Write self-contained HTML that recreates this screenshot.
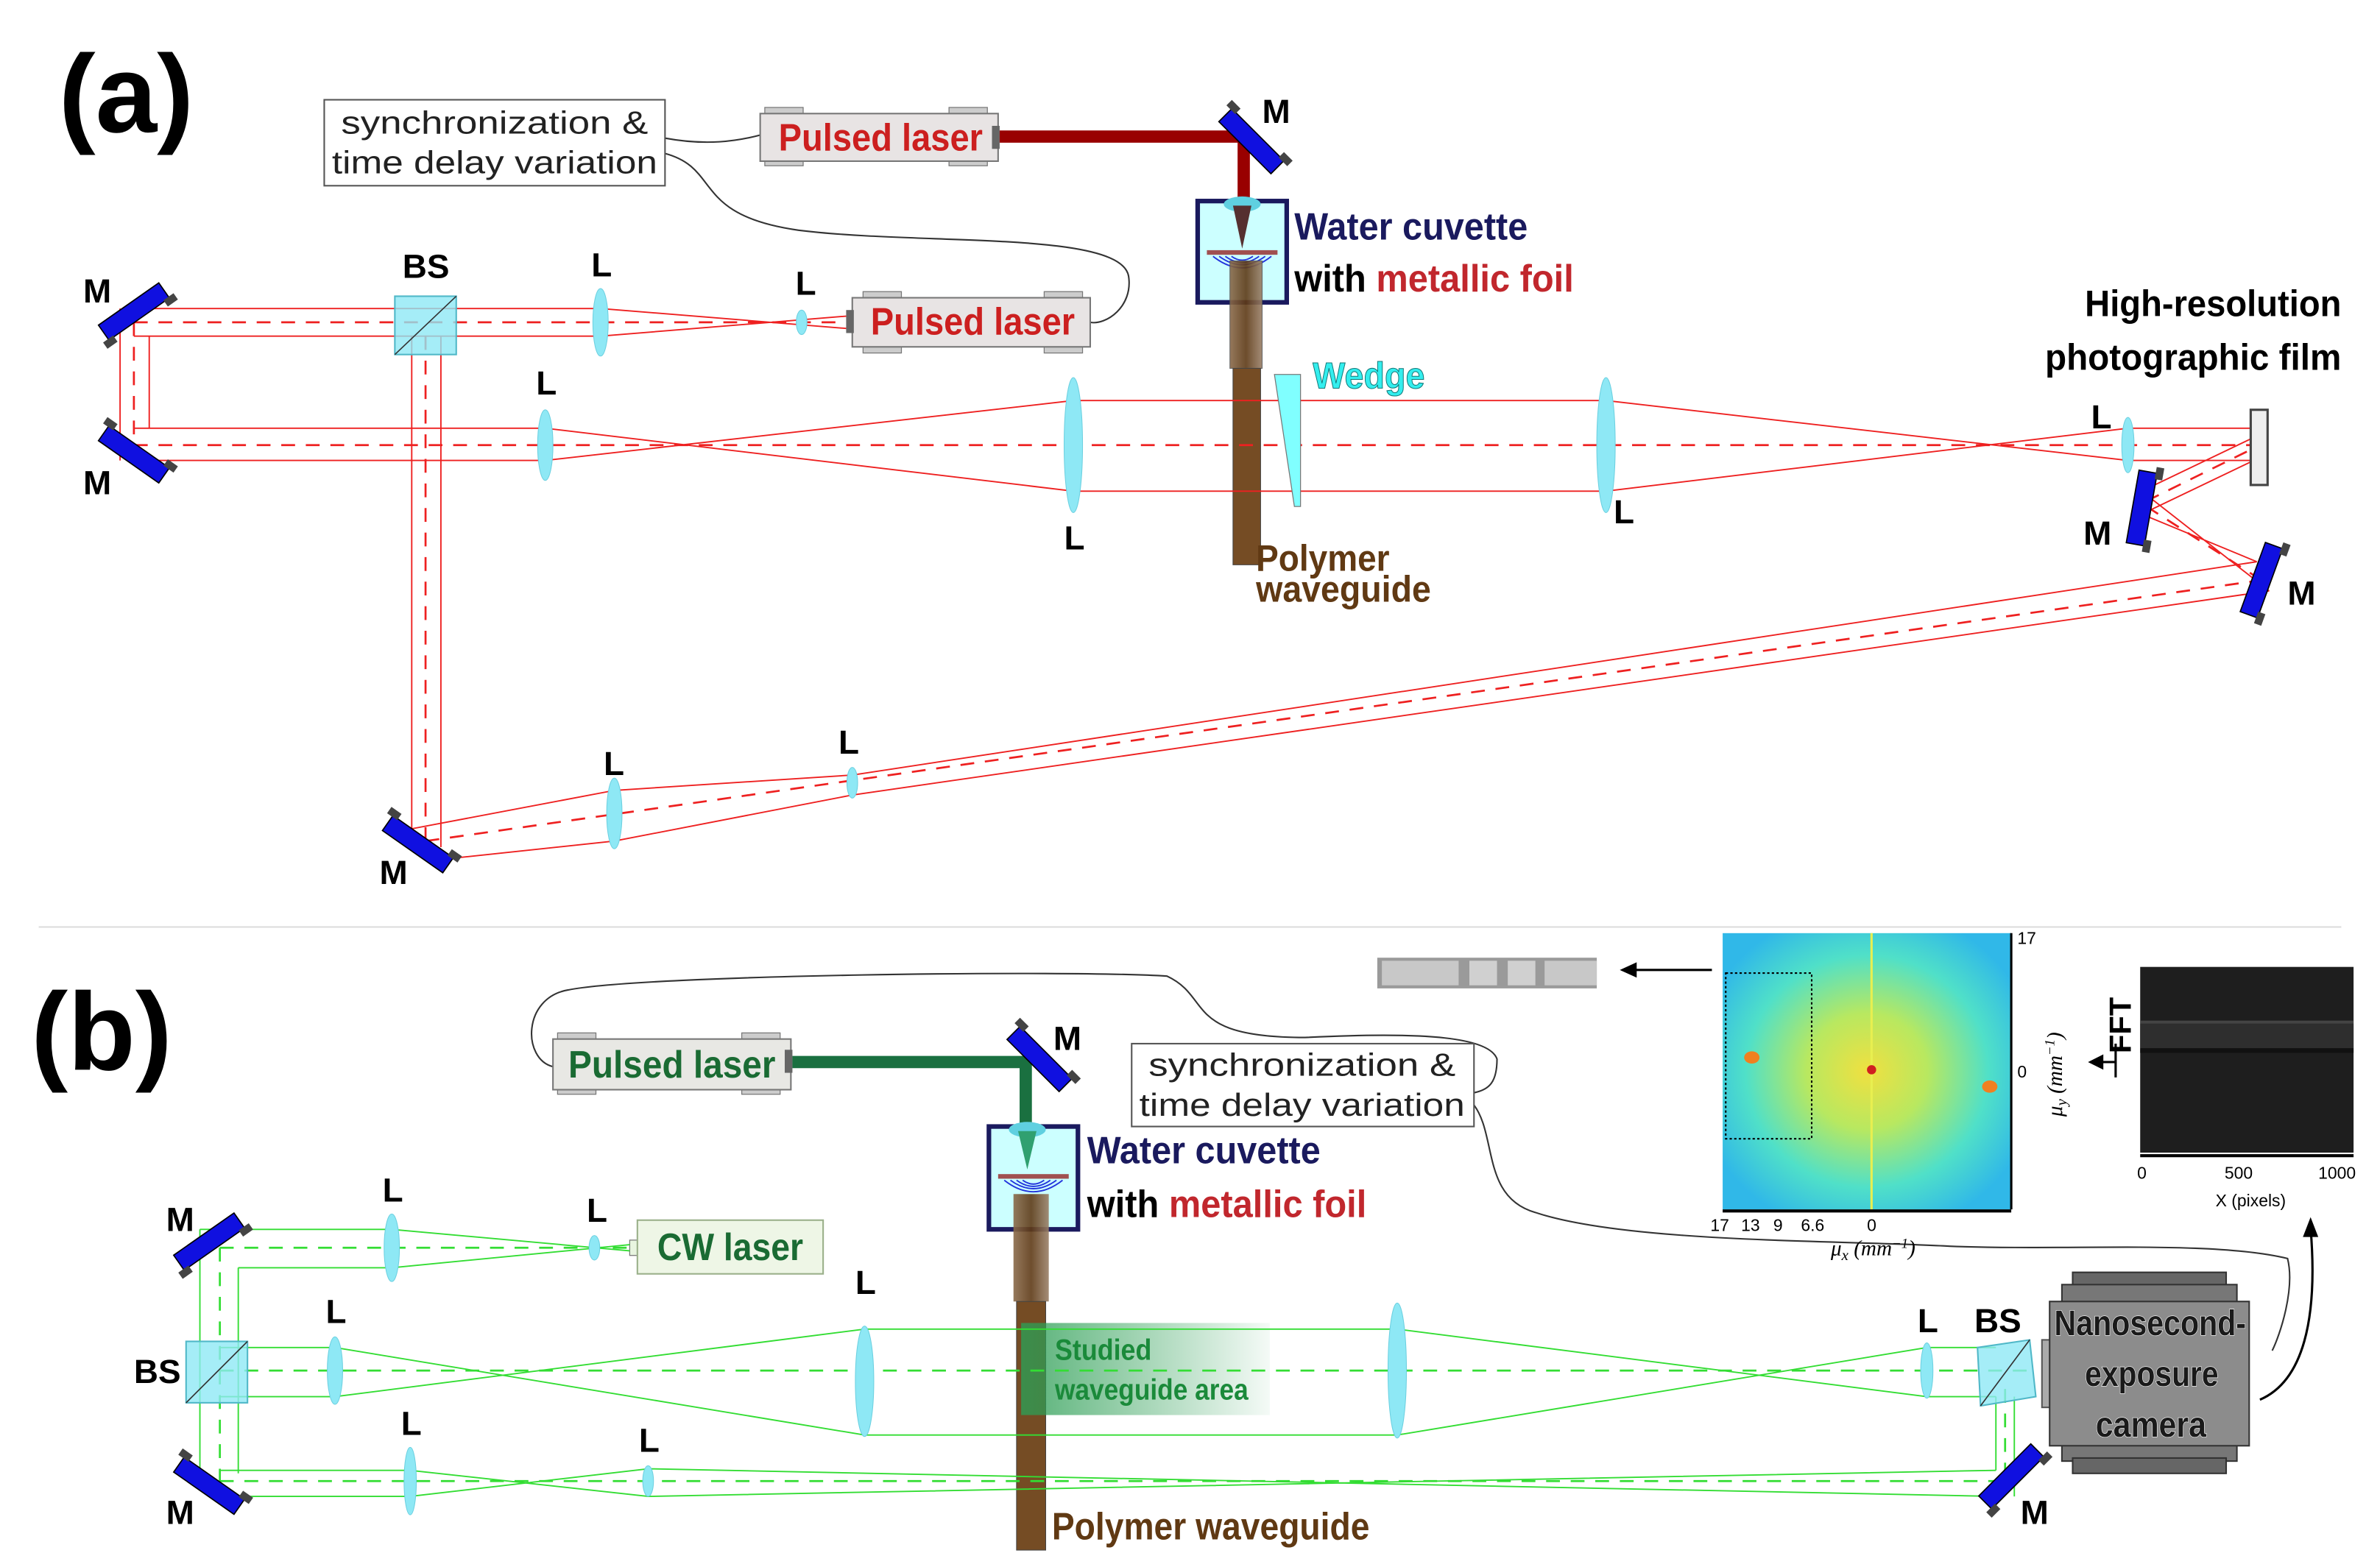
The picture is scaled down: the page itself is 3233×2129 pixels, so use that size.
<!DOCTYPE html>
<html><head><meta charset="utf-8"><style>
html,body{margin:0;padding:0;background:#fff}
svg{display:block}
.b{font-family:"Liberation Sans Narrow","Liberation Sans",sans-serif;font-weight:bold}
.n{font-family:"Liberation Sans",sans-serif}
</style></head><body>
<svg width="3233" height="2129" viewBox="0 0 1550 1021" xmlns="http://www.w3.org/2000/svg">
<defs>
<g id="mir"><rect x="-6" y="-24" width="12" height="48" fill="#1010e0" stroke="#000" stroke-width="0.8"/><rect x="5" y="-28" width="5" height="8" fill="#444"/><rect x="5" y="20" width="5" height="8" fill="#444"/></g>
<radialGradient id="fftg" cx="0.5" cy="0.5" r="0.6"><stop offset="0" stop-color="#f0e040"/><stop offset="0.35" stop-color="#b8e860"/><stop offset="0.7" stop-color="#50e0c8"/><stop offset="1" stop-color="#30b8e8"/></radialGradient>
<linearGradient id="stud" x1="0" x2="1"><stop offset="0" stop-color="#2d9e55" stop-opacity="0.8"/><stop offset="1" stop-color="#2d9e55" stop-opacity="0.05"/></linearGradient>
<linearGradient id="wg" x1="0" x2="1"><stop offset="0" stop-color="#8a6a4a"/><stop offset="0.5" stop-color="#5e3a16"/><stop offset="1" stop-color="#9a8068"/></linearGradient>
</defs>

<!-- ========== PANEL A ========== -->
<text x="38" y="86" class="n" font-weight="bold" font-size="72">(a)</text>

<path d="M433,90 C460,95 480,92 495,88" fill="none" stroke="#333" stroke-width="1"/>
<path d="M433,100 C470,110 450,140 520,150 C600,160 730,150 735,180 C738,200 720,212 710,210" fill="none" stroke="#333" stroke-width="1"/>

<rect x="211" y="65" width="222" height="56" fill="#fff" stroke="#555" stroke-width="1"/>
<text x="322" y="87" class="n" font-size="21" text-anchor="middle" fill="#222" textLength="200" lengthAdjust="spacingAndGlyphs">synchronization &amp;</text>
<text x="322" y="113" class="n" font-size="21" text-anchor="middle" fill="#222" textLength="212" lengthAdjust="spacingAndGlyphs">time delay variation</text>

<!-- pulsed laser top -->
<rect x="498" y="70" width="25" height="5" fill="#ccc" stroke="#777" stroke-width="0.6"/><rect x="618" y="70" width="25" height="5" fill="#ccc" stroke="#777" stroke-width="0.6"/>
<rect x="498" y="103" width="25" height="5" fill="#ccc" stroke="#777" stroke-width="0.6"/><rect x="618" y="103" width="25" height="5" fill="#ccc" stroke="#777" stroke-width="0.6"/>
<rect x="495" y="74" width="155" height="31" fill="#e8e4e4" stroke="#777" stroke-width="1"/>
<rect x="646" y="82" width="5" height="15" fill="#666"/>
<text x="507" y="98" class="b" font-size="25" fill="#cc1f1f" textLength="133" lengthAdjust="spacingAndGlyphs">Pulsed laser</text>
<path d="M651,89 H810 V140" fill="none" stroke="#990000" stroke-width="8"/>
<use href="#mir" transform="translate(815,92) rotate(-45)"/>
<text x="822" y="80" class="b" font-size="22">M</text>

<!-- pulsed laser (a) second -->
<rect x="562" y="190" width="25" height="5" fill="#ccc" stroke="#777" stroke-width="0.6"/><rect x="680" y="190" width="25" height="5" fill="#ccc" stroke="#777" stroke-width="0.6"/>
<rect x="562" y="225" width="25" height="5" fill="#ccc" stroke="#777" stroke-width="0.6"/><rect x="680" y="225" width="25" height="5" fill="#ccc" stroke="#777" stroke-width="0.6"/>
<rect x="555" y="194" width="155" height="32" fill="#e8e4e4" stroke="#777" stroke-width="1"/>
<rect x="551" y="202" width="5" height="15" fill="#666"/>
<text x="567" y="218" class="b" font-size="25" fill="#cc1f1f" textLength="133" lengthAdjust="spacingAndGlyphs">Pulsed laser</text>

<!-- cuvette a -->
<rect x="780" y="131" width="58" height="66" fill="#ccffff" stroke="#1a1a5e" stroke-width="3"/>
<ellipse cx="809" cy="133" rx="12" ry="5" fill="#5fd0e0"/>
<polygon points="803,134 815,134 809,162" fill="#553030"/>
<rect x="786" y="163" width="46" height="3" fill="#a05050"/>
<path d="M790,167 Q809,182 828,167 M794,167 Q809,178 824,167 M798,167 Q809,175 820,167 M802,167 Q809,172 816,167" fill="none" stroke="#2233dd" stroke-width="0.9"/>
<rect x="801" y="170" width="21" height="70" fill="url(#wg)" stroke="#555" stroke-width="0.5" opacity="0.9"/>
<rect x="803" y="240" width="18" height="128" fill="#754c24" stroke="#444" stroke-width="0.5"/>
<text x="843" y="156" class="b" font-size="25" fill="#1a1a5e" textLength="152" lengthAdjust="spacingAndGlyphs">Water cuvette</text>
<text x="843" y="190" class="b" font-size="25" fill="#000" textLength="182" lengthAdjust="spacingAndGlyphs">with <tspan fill="#c1272d">metallic foil</tspan></text>
<text x="818" y="372" class="b" font-size="24" fill="#603913" textLength="87" lengthAdjust="spacingAndGlyphs">Polymer</text>
<text x="818" y="392" class="b" font-size="24" fill="#603913" textLength="114" lengthAdjust="spacingAndGlyphs">waveguide</text>

<!-- red beams a -->
<g stroke="#ee2020" stroke-width="0.9" fill="none">
<path d="M87,201 H391 L551,214 M87,219 H391 L551,206"/>
<path d="M78,201 V300 M97,219 V279"/>
<path d="M87,279 H355 L699,320 H1046 L1386,279 L1470,279 M87,300 H355 L699,261 H1046 L1386,300 L1470,300"/>
<path d="M268,219 V540 M287,219 V552"/>
<path d="M268,540 L400,515 L555,505 L1470,366 M287,560 L400,548 L555,518 L1478,385"/>
<path d="M1470,366 L1395,335 L1468,300 M1478,385 L1395,320 L1468,285"/>
</g>
<g stroke="#ee2020" stroke-width="1.3" fill="none" stroke-dasharray="9,7">
<path d="M87,210 H551"/><path d="M87,210 V290"/><path d="M87,290 H1470"/><path d="M277,219 V548"/>
<path d="M277,548 L1473,378"/><path d="M1473,378 L1395,328 L1468,292"/>
</g>
<polygon points="830,244 847,244 847,330 843,330" fill="#80ffff" stroke="#777" stroke-width="0.6"/>
<text x="855" y="253" class="b" font-size="24" fill="#33eeee" stroke="#117777" stroke-width="0.5" textLength="73" lengthAdjust="spacingAndGlyphs">Wedge</text>

<g fill="#8ee8f5" stroke="#6cd0e0" stroke-width="0.5">
<ellipse cx="391" cy="210" rx="5" ry="22"/><ellipse cx="522" cy="210" rx="3.5" ry="8"/>
<ellipse cx="355" cy="290" rx="5" ry="23"/><ellipse cx="699" cy="290" rx="6" ry="44"/>
<ellipse cx="1046" cy="290" rx="6" ry="44"/><ellipse cx="1386" cy="290" rx="4" ry="18"/>
<ellipse cx="400" cy="530" rx="5" ry="23"/><ellipse cx="555" cy="510" rx="3.5" ry="10"/>
</g>
<rect x="257" y="193" width="40" height="38" fill="#8ee8f5" fill-opacity="0.8" stroke="#50b8c8"/>
<line x1="257" y1="231" x2="297" y2="193" stroke="#333" stroke-width="0.8"/>
<rect x="1466" y="267" width="11" height="49" fill="#eee" stroke="#444" stroke-width="1.5"/>

<use href="#mir" transform="translate(87,203) rotate(55)"/>
<use href="#mir" transform="translate(87,296) rotate(-55)"/>
<use href="#mir" transform="translate(272,550) rotate(-55)"/>
<use href="#mir" transform="translate(1395,331) rotate(10)"/>
<use href="#mir" transform="translate(1473,378) rotate(20)"/>

<g class="b" font-size="22">
<text x="54" y="197">M</text><text x="54" y="322">M</text><text x="262" y="181">BS</text>
<text x="385" y="180">L</text><text x="518" y="192">L</text><text x="349" y="257">L</text>
<text x="693" y="358">L</text><text x="1051" y="341">L</text><text x="1362" y="279">L</text>
<text x="1357" y="355">M</text><text x="1490" y="394">M</text><text x="393" y="505">L</text>
<text x="546" y="491">L</text><text x="247" y="576">M</text>
<text x="1358" y="206" font-size="24" textLength="167" lengthAdjust="spacingAndGlyphs">High-resolution</text>
<text x="1332" y="241" font-size="24" textLength="193" lengthAdjust="spacingAndGlyphs">photographic film</text>
</g>

<line x1="25" y1="604" x2="1525" y2="604" stroke="#ddd" stroke-width="1"/>

<!-- ========== PANEL B ========== -->
<text x="20" y="697" class="n" font-weight="bold" font-size="72">(b)</text>

<path d="M360,695 C340,690 340,650 370,645 C420,635 700,632 760,636 C790,650 770,676 850,676 C930,672 970,676 975,690 C975,705 970,710 960,712" fill="none" stroke="#333" stroke-width="1"/>
<path d="M960,720 C975,740 965,780 1000,790 C1060,810 1200,808 1270,812 C1350,815 1440,808 1490,820 C1495,840 1485,870 1480,880" fill="none" stroke="#333" stroke-width="1"/>
<path d="M1472,912 C1500,900 1510,860 1505,800" fill="none" stroke="#000" stroke-width="1.5"/>
<polygon points="1505,793 1500,806 1510,806" fill="#000"/>

<rect x="363" y="673" width="25" height="5" fill="#ccc" stroke="#777" stroke-width="0.6"/><rect x="483" y="673" width="25" height="5" fill="#ccc" stroke="#777" stroke-width="0.6"/>
<rect x="363" y="708" width="25" height="5" fill="#ccc" stroke="#777" stroke-width="0.6"/><rect x="483" y="708" width="25" height="5" fill="#ccc" stroke="#777" stroke-width="0.6"/>
<rect x="360" y="677" width="155" height="33" fill="#e8e8e4" stroke="#777"/>
<rect x="511" y="684" width="5" height="15" fill="#666"/>
<text x="370" y="702" class="b" font-size="25" fill="#1a6b33" textLength="135" lengthAdjust="spacingAndGlyphs">Pulsed laser</text>
<path d="M516,692 H668 V738" fill="none" stroke="#1a7040" stroke-width="8"/>
<use href="#mir" transform="translate(677,690) rotate(-45)"/>
<text x="686" y="684" class="b" font-size="22">M</text>

<rect x="737" y="680" width="223" height="54" fill="#fff" stroke="#555"/>
<text x="848" y="701" class="n" font-size="21" text-anchor="middle" fill="#222" textLength="200" lengthAdjust="spacingAndGlyphs">synchronization &amp;</text>
<text x="848" y="727" class="n" font-size="21" text-anchor="middle" fill="#222" textLength="212" lengthAdjust="spacingAndGlyphs">time delay variation</text>

<rect x="644" y="734" width="58" height="67" fill="#ccffff" stroke="#1a1a5e" stroke-width="3"/>
<ellipse cx="669" cy="736" rx="12" ry="5" fill="#5fd0e0"/>
<polygon points="663,737 675,737 669,762" fill="#30a070"/>
<rect x="650" y="765" width="46" height="3" fill="#a05050"/>
<path d="M654,769 Q673,784 692,769 M658,769 Q673,780 688,769 M662,769 Q673,777 684,769 M666,769 Q673,774 680,769" fill="none" stroke="#2233dd" stroke-width="0.9"/>
<rect x="660" y="778" width="23" height="70" fill="url(#wg)" opacity="0.9"/>
<rect x="662" y="848" width="19" height="162" fill="#754c24" stroke="#444" stroke-width="0.5"/>
<text x="708" y="758" class="b" font-size="25" fill="#1a1a5e" textLength="152" lengthAdjust="spacingAndGlyphs">Water cuvette</text>
<text x="708" y="793" class="b" font-size="25" fill="#000" textLength="182" lengthAdjust="spacingAndGlyphs">with <tspan fill="#c1272d">metallic foil</tspan></text>
<rect x="665" y="862" width="162" height="60" fill="url(#stud)"/>
<text x="687" y="886" class="b" font-size="19" fill="#1a8a3a" textLength="63" lengthAdjust="spacingAndGlyphs">Studied</text>
<text x="687" y="912" class="b" font-size="19" fill="#1a8a3a" textLength="126" lengthAdjust="spacingAndGlyphs">waveguide area</text>
<text x="685" y="1003" class="b" font-size="25" fill="#603913" textLength="207" lengthAdjust="spacingAndGlyphs">Polymer waveguide</text>

<rect x="410" y="808" width="6" height="10" fill="#e8f5e0" stroke="#777" stroke-width="0.6"/>
<rect x="415" y="795" width="121" height="35" fill="#eef6e6" stroke="#9ab08a"/>
<text x="428" y="821" class="b" font-size="25" fill="#1a6b33" textLength="95" lengthAdjust="spacingAndGlyphs">CW laser</text>

<g stroke="#33dd33" stroke-width="0.9" fill="none">
<path d="M130,801 H255 L410,815 M155,826 H255 L410,811"/>
<path d="M130,801 V960 M155,826 V960"/>
<path d="M143,878 H218 L563,935 H910 L1255,878 L1300,878 M143,910 H218 L563,866 H910 L1255,910 L1300,910"/>
<path d="M143,958 H267 L422,975 L1300,958 M143,975 H267 L422,957 L1300,975"/>
<path d="M1300,910 V958 M1312,910 V975"/>
</g>
<g stroke="#33dd33" stroke-width="1.3" fill="none" stroke-dasharray="9,7">
<path d="M143,813 H410"/><path d="M143,813 V965"/><path d="M143,893 H1320"/><path d="M143,965 H1306"/><path d="M1306,905 V965"/>
</g>
<g fill="#8ee8f5" stroke="#6cd0e0" stroke-width="0.5">
<ellipse cx="255" cy="813" rx="5" ry="22"/><ellipse cx="387" cy="813" rx="3.5" ry="8"/>
<ellipse cx="218" cy="893" rx="5" ry="22"/><ellipse cx="563" cy="900" rx="6" ry="36"/>
<ellipse cx="910" cy="893" rx="6" ry="44"/><ellipse cx="1255" cy="893" rx="4" ry="18"/>
<ellipse cx="267" cy="965" rx="4" ry="22"/><ellipse cx="422" cy="965" rx="3.5" ry="10"/>
</g>
<rect x="121" y="874" width="40" height="40" fill="#8ee8f5" fill-opacity="0.8" stroke="#50b8c8"/>
<line x1="121" y1="914" x2="161" y2="874" stroke="#333" stroke-width="0.8"/>
<polygon points="1288,878 1322,873 1326,910 1290,916" fill="#8ee8f5" fill-opacity="0.8" stroke="#50b8c8"/>
<line x1="1290" y1="916" x2="1322" y2="873" stroke="#333" stroke-width="0.8"/>

<use href="#mir" transform="translate(136,809) rotate(55)"/>
<use href="#mir" transform="translate(136,968) rotate(-55)"/>
<use href="#mir" transform="translate(1310,962) rotate(45)"/>

<rect x="1350" y="829" width="100" height="10" fill="#666" stroke="#333"/>
<rect x="1343" y="837" width="114" height="12" fill="#777" stroke="#333"/>
<rect x="1343" y="940" width="114" height="12" fill="#777" stroke="#333"/>
<rect x="1350" y="950" width="100" height="10" fill="#666" stroke="#333"/>
<rect x="1330" y="873" width="7" height="44" fill="#aaa" stroke="#555"/>
<rect x="1335" y="848" width="130" height="94" fill="#8c8c8c" stroke="#333"/>
<g class="b" font-size="23" fill="#1a1a1a" stroke="#fff" stroke-width="0.6" paint-order="stroke">
<text x="1338" y="870" textLength="125" lengthAdjust="spacingAndGlyphs">Nanosecond-</text>
<text x="1358" y="903" textLength="87" lengthAdjust="spacingAndGlyphs">exposure</text>
<text x="1365" y="936" textLength="72" lengthAdjust="spacingAndGlyphs">camera</text></g>

<g class="b" font-size="22">
<text x="108" y="802">M</text><text x="87" y="901">BS</text><text x="108" y="993">M</text>
<text x="249" y="783">L</text><text x="382" y="796">L</text><text x="212" y="862">L</text>
<text x="557" y="843">L</text><text x="261" y="935">L</text><text x="416" y="946">L</text>
<text x="1249" y="868">L</text><text x="1286" y="868">BS</text><text x="1316" y="993">M</text>
</g>

<rect x="897" y="624" width="143" height="20" fill="#9a9a9a"/>
<rect x="900" y="626" width="50" height="16" fill="#c8c8c8"/><rect x="957" y="626" width="18" height="16" fill="#d0d0d0"/>
<rect x="982" y="626" width="18" height="16" fill="#d0d0d0"/><rect x="1006" y="626" width="34" height="16" fill="#c8c8c8"/>
<line x1="1115" y1="632" x2="1062" y2="632" stroke="#000" stroke-width="1.5"/>
<polygon points="1055,632 1066,627 1066,637" fill="#000"/>

<rect x="1122" y="608" width="188" height="180" fill="url(#fftg)"/>
<line x1="1219" y1="608" x2="1219" y2="788" stroke="#e8ef50" stroke-width="1.5"/>
<circle cx="1219" cy="697" r="3" fill="#d02020"/>
<ellipse cx="1141" cy="689" rx="5" ry="4" fill="#f08020"/>
<ellipse cx="1296" cy="708" rx="5" ry="4" fill="#f08020"/>
<rect x="1124" y="634" width="56" height="108" fill="none" stroke="#000" stroke-width="1" stroke-dasharray="1.5,1.5"/>
<line x1="1310" y1="608" x2="1310" y2="788" stroke="#000" stroke-width="1.5"/>
<line x1="1122" y1="789" x2="1310" y2="789" stroke="#000" stroke-width="2"/>
<g class="n" font-size="11">
<text x="1314" y="615">17</text><text x="1314" y="702">0</text>
<text x="1114" y="802">17</text><text x="1134" y="802">13</text><text x="1155" y="802">9</text><text x="1173" y="802">6.6</text><text x="1216" y="802">0</text>
</g>
<text x="1220" y="818" font-family="Liberation Serif,serif" font-style="italic" font-size="14" text-anchor="middle">μ<tspan font-size="10" dy="3">x</tspan><tspan dy="-3"> (mm</tspan><tspan font-size="9" dy="-5">−1</tspan><tspan dy="5">)</tspan></text>
<text transform="translate(1343,700) rotate(-90)" font-family="Liberation Serif,serif" font-style="italic" font-size="14" text-anchor="middle">μ<tspan font-size="10" dy="3">y</tspan><tspan dy="-3"> (mm</tspan><tspan font-size="9" dy="-5">−1</tspan><tspan dy="5">)</tspan></text>

<text transform="translate(1388,668) rotate(-90)" class="n" font-weight="bold" font-size="20" text-anchor="middle">FFT</text>
<line x1="1378" y1="702" x2="1378" y2="680" stroke="#000" stroke-width="1.5"/>
<line x1="1364" y1="692" x2="1378" y2="692" stroke="#000" stroke-width="1.5"/>
<polygon points="1360,692 1370,687 1370,697" fill="#000"/>

<rect x="1394" y="630" width="139" height="121" fill="#1e1e1e"/>
<rect x="1394" y="665" width="139" height="2" fill="#444"/><rect x="1394" y="667" width="139" height="16" fill="#2e2e2e"/>
<rect x="1394" y="683" width="139" height="3" fill="#111"/>
<rect x="1394" y="752" width="139" height="2" fill="#000"/>
<g class="n" font-size="11"><text x="1392" y="768">0</text><text x="1449" y="768">500</text><text x="1510" y="768">1000</text>
<text x="1466" y="786" text-anchor="middle">X (pixels)</text></g>
</svg>
</body></html>
